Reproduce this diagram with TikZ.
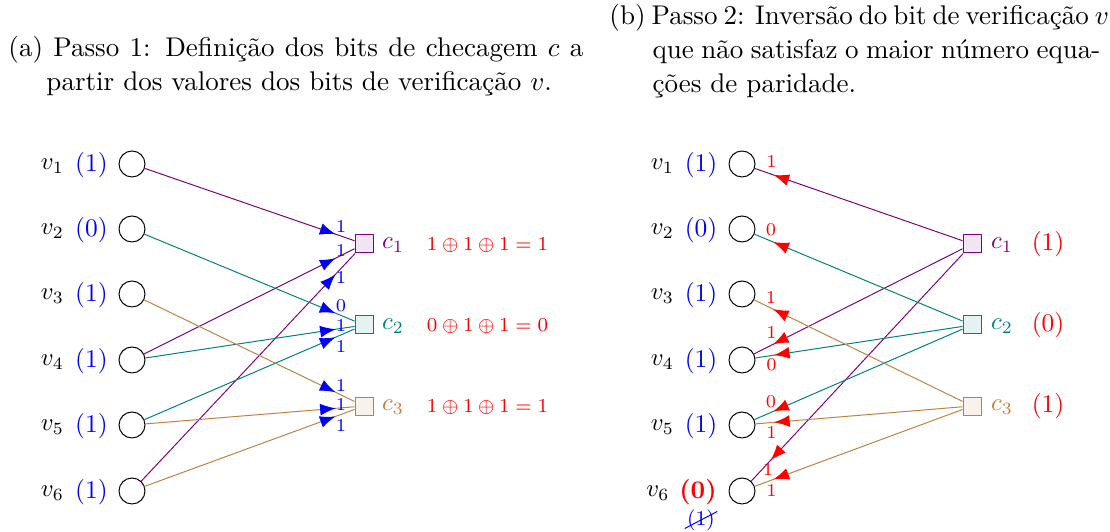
\documentclass[tikz,border=0pt]{standalone}
\usetikzlibrary{arrows.meta,decorations.markings}
\newdimen\pxu \pxu=0.405pt
\definecolor{cA}{rgb}{0.5,0,0.5}
\definecolor{cB}{rgb}{0,0.5,0.5}
\definecolor{cC}{rgb}{0.75,0.5,0.25}
\tikzset{
  vn/.style={circle,draw,minimum size=26\pxu,inner sep=0pt},
  cn/.style={rectangle,draw=#1,fill=#1!10,minimum size=18\pxu,inner sep=0pt},
  lbl/.style={font=\fontsize{10.3}{12}\selectfont,inner sep=0pt},
  bitl/.style={font=\fontsize{7.3}{8}\selectfont,inner sep=0pt},
  eqn/.style={font=\fontsize{8}{9.5}\selectfont,text=red,inner sep=0pt},
  captxt/.style={font=\fontsize{10.95}{13.6}\selectfont,inner sep=0pt,anchor=base west},
  arrblue/.style={postaction={decorate},decoration={markings,mark=at position 0.91 with {\arrow{Latex[length=6.3pt,width=4.8pt,color=blue]}}}},
  arrred/.style={postaction={decorate},decoration={markings,mark=at position 0.91 with {\arrow{Latex[length=6.3pt,width=4.8pt,color=red]}}}},
}
\begin{document}
\begin{tikzpicture}[x=0.405pt,y=-0.405pt]
\useasboundingbox (0,0) rectangle (1110,532);

% captions
\node[captxt] (ca1) at (8,56.5) {\makebox[575\pxu][s]{(a) Passo 1: Definição dos bits de checagem $c$ a}};
\node[captxt] (ca2) at (46,90.5) {partir dos valores dos bits de verificação $v$.};
\node[captxt] (cb1) at (609,25) {\makebox[491\pxu][s]{(b) Passo 2: Inversão do bit de verificação $v$}};
\node[captxt] (cb2) at (652,59) {\makebox[448\pxu][s]{que não satisfaz o maior número equa-}};
\node[captxt] (cb3) at (652,93) {ções de paridade.};

% ---------- left panel ----------
\foreach \i/\y in {1/164,2/229,3/294,4/360,5/425,6/491}{
  \node[vn] (a\i) at (132,\y) {};
  \node[lbl] (la\i) at (52.5,\y+2) {$v_{\i}$};
}
\node[lbl,text=blue] (ba1) at (91.5,165) {(1)};
\node[lbl,text=blue] (ba2) at (91.5,230) {(0)};
\node[lbl,text=blue] (ba3) at (91.5,295) {(1)};
\node[lbl,text=blue] (ba4) at (91.5,361) {(1)};
\node[lbl,text=blue] (ba5) at (91.5,426) {(1)};
\node[lbl,text=blue] (ba6) at (91.5,492) {(1)};

\node[cn=cA] (ac1) at (364,244) {};
\node[cn=cB] (ac2) at (364,325) {};
\node[cn=cC] (ac3) at (364,406) {};
\node[lbl,text=cA] (lac1) at (393,245) {$c_1$};
\node[lbl,text=cB] (lac2) at (393,326) {$c_2$};
\node[lbl,text=cC] (lac3) at (393,407) {$c_3$};
\node[eqn] (eq1) at (487.5,245) {$1\oplus1\oplus1=1$};
\node[eqn] (eq2) at (487.5,326) {$0\oplus1\oplus1=0$};
\node[eqn] (eq3) at (487.5,407) {$1\oplus1\oplus1=1$};

\draw[cA,arrblue] (a1) -- (ac1);
\draw[cA,arrblue] (a4) -- (ac1);
\draw[cA,arrblue] (a6) -- (ac1);
\draw[cB,arrblue] (a2) -- (ac2);
\draw[cB,arrblue] (a4) -- (ac2);
\draw[cB,arrblue] (a5) -- (ac2);
\draw[cC,arrblue] (a3) -- (ac3);
\draw[cC,arrblue] (a5) -- (ac3);
\draw[cC,arrblue] (a6) -- (ac3);

\node[bitl,text=blue] (m11) at (341,227) {1};
\node[bitl,text=blue] (m14) at (341,251) {1};
\node[bitl,text=blue] (m16) at (341,278) {1};
\node[bitl,text=blue] (m22) at (341,306) {0};
\node[bitl,text=blue] (m24) at (341,326) {1};
\node[bitl,text=blue] (m25) at (341,347) {1};
\node[bitl,text=blue] (m33) at (341,386) {1};
\node[bitl,text=blue] (m35) at (341,405) {1};
\node[bitl,text=blue] (m36) at (341,426) {1};

% ---------- right panel ----------
\foreach \i/\y in {1/164,2/229,3/294,4/360,5/425}{
  \node[vn] (b\i) at (742,\y) {};
  \node[lbl] (lb\i) at (662.5,\y+2) {$v_{\i}$};
}
\node[vn] (b6) at (742,491) {};
\node[lbl] (lb6) at (658,493) {$v_6$};
\node[lbl,text=blue] (bb1) at (701,165) {(1)};
\node[lbl,text=blue] (bb2) at (701,230) {(0)};
\node[lbl,text=blue] (bb3) at (701,295) {(1)};
\node[lbl,text=blue] (bb4) at (701,361) {(1)};
\node[lbl,text=blue] (bb5) at (701,426) {(1)};
\node[lbl,text=red] (bb6) at (698,492) {\textbf{(0)}};
\node[font=\fontsize{8.5}{9}\selectfont,text=blue,inner sep=0pt] (old6) at (701,520) {(1)};
\draw[blue] ([xshift=-0.8pt,yshift=1pt]old6.south west) -- ([xshift=0.8pt,yshift=-1pt]old6.north east);

\node[cn=cA] (bc1) at (972,244) {};
\node[cn=cB] (bc2) at (972,325) {};
\node[cn=cC] (bc3) at (972,406) {};
\node[lbl,text=cA] (lbc1) at (1002,245) {$c_1$};
\node[lbl,text=cB] (lbc2) at (1002,326) {$c_2$};
\node[lbl,text=cC] (lbc3) at (1002,407) {$c_3$};
\node[lbl,text=red] (rc1) at (1048,244) {(1)};
\node[lbl,text=red] (rc2) at (1048,325) {(0)};
\node[lbl,text=red] (rc3) at (1048,406) {(1)};

\draw[cA,arrred] (bc1) -- (b1);
\draw[cA,arrred] (bc1) -- (b4);
\draw[cA,arrred] (bc1) -- (b6);
\draw[cB,arrred] (bc2) -- (b2);
\draw[cB,arrred] (bc2) -- (b4);
\draw[cB,arrred] (bc2) -- (b5);
\draw[cC,arrred] (bc3) -- (b3);
\draw[cC,arrred] (bc3) -- (b5);
\draw[cC,arrred] (bc3) -- (b6);

\node[bitl,text=red] (n1) at (771.5,161.5) {1};
\node[bitl,text=red] (n2) at (771,230) {0};
\node[bitl,text=red] (n3) at (771,298) {1};
\node[bitl,text=red] (n4a) at (771.5,333) {1};
\node[bitl,text=red] (n4b) at (771.5,365) {0};
\node[bitl,text=red] (n5a) at (771,401.5) {0};
\node[bitl,text=red] (n5b) at (771.5,433) {1};
\node[bitl,text=red] (n6a) at (768,470) {1};
\node[bitl,text=red] (n6b) at (771.5,491) {1};
\end{tikzpicture}
\end{document}
